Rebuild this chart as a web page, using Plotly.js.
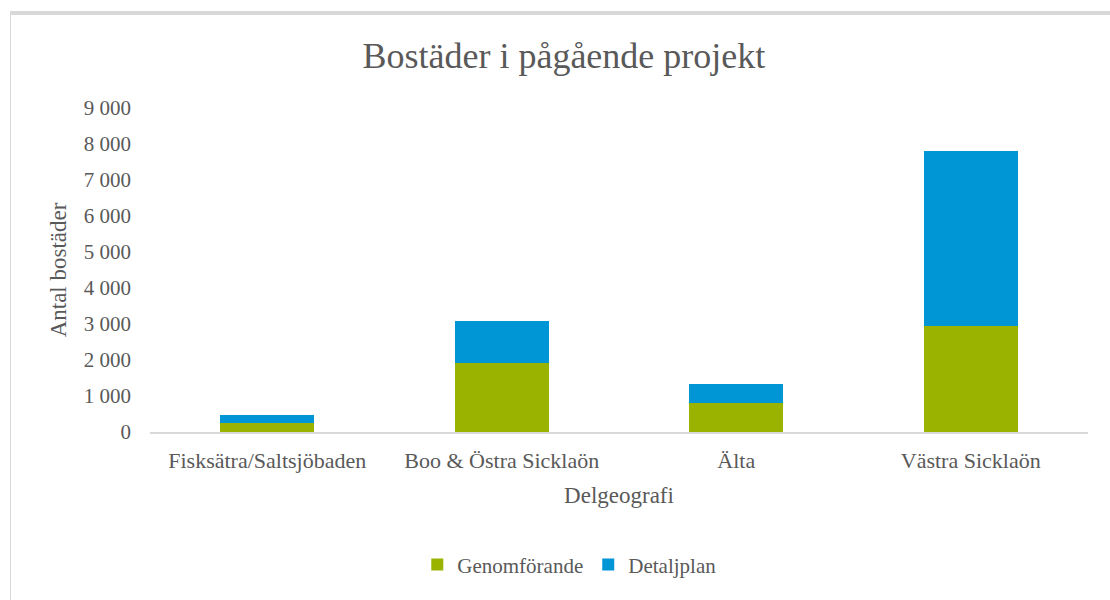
<!DOCTYPE html>
<html>
<head>
<meta charset="utf-8">
<script src="https://cdn.plot.ly/plotly-3.0.1.min.js"></script>
<style>
  html, body { margin: 0; padding: 0; background: #fff; }
  #chart { position: absolute; left: 0; top: 0; width: 1110px; height: 600px; }
  #frame { position: absolute; left: 10px; top: 11px; width: 1110px; height: 600px;
           border-top: 4px solid #d9d9d9; border-left: 1px solid #d9d9d9; pointer-events: none; box-sizing: border-box; }
</style>
</head>
<body>
<div id="chart"></div>
<div id="frame"></div>
<script>
const categories = ["Fisksätra/Saltsjöbaden", "Boo & Östra Sicklaön", "Älta", "Västra Sicklaön"];
const genomforande = [240, 1910, 815, 2945];
const detaljplan = [225, 1180, 520, 4850];
const seriesNames = ["Genomförande", "Detaljplan"];
const yTicks = [0, 1000, 2000, 3000, 4000, 5000, 6000, 7000, 8000, 9000];

const FONT = "'Liberation Serif', 'DejaVu Serif', serif";
const GREY = "#595959";

const data = [
  { type: "bar", name: seriesNames[0], x: categories, y: genomforande,
    marker: { color: "#99B300", line: { width: 0 } }, hoverinfo: "x+y+name" },
  { type: "bar", name: seriesNames[1], x: categories, y: detaljplan,
    marker: { color: "#0096D6", line: { width: 0 } }, hoverinfo: "x+y+name" }
];

const layout = {
  width: 1110, height: 600,
  barmode: "stack",
  bargap: 0.6,
  separators: ", ",
  paper_bgcolor: "rgba(0,0,0,0)",
  plot_bgcolor: "rgba(0,0,0,0)",
  margin: { l: 150, r: 22, t: 108, b: 168 },
  font: { family: FONT, color: GREY, size: 21 },
  title: { text: "Bostäder i pågående projekt", font: { family: FONT, size: 36, color: GREY },
           x: 0.508, xref: "container", xanchor: "center", y: 0.908, yref: "container", yanchor: "middle" },
  xaxis: {
    type: "category",
    showline: true, linecolor: "#d9d9d9", linewidth: 2,
    showgrid: false, zeroline: false, ticks: "",
    tickfont: { family: FONT, size: 22, color: GREY },
    ticklabelstandoff: 8,
    title: { text: "Delgeografi", font: { family: FONT, size: 23, color: GREY }, standoff: 14 }
  },
  yaxis: {
    range: [0, 9000],
    tickvals: yTicks,
    tickformat: ",d",
    showline: false, showgrid: false, zeroline: false, ticks: "",
    tickfont: { family: FONT, size: 21, color: GREY },
    ticklabelstandoff: 18,
    title: { text: "Antal bostäder", font: { family: FONT, size: 23, color: GREY }, standoff: 10 }
  },
  showlegend: true,
  legend: {
    orientation: "h",
    x: 0.447, xanchor: "center",
    y: -0.41, yanchor: "middle",
    font: { family: FONT, size: 21, color: GREY },
    itemwidth: 30,
    traceorder: "normal"
  }
};

Plotly.newPlot("chart", data, layout, { displayModeBar: false, staticPlot: true });
</script>
</body>
</html>
